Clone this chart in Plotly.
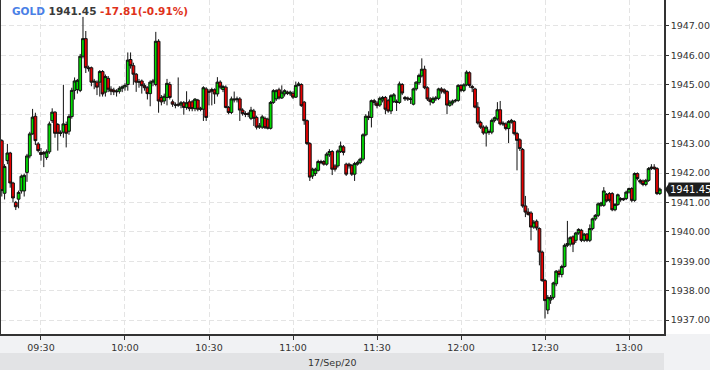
import pandas as pd
import plotly.graph_objects as go

# ---- data (GOLD, 1-minute candles, 17 Sep 2020) ----
start_time = "2020-09-17 09:16"
symbol = "GOLD"
change_abs = -17.81
change_pct = -0.91
date_label = "17/Sep/20"

open_ = [
    1943.10, 1941.31, 1942.42, 1942.68, 1941.66, 1941.00, 1941.11, 1941.39, 1941.39, 1942.02,
    1942.58, 1943.33, 1943.93, 1942.99, 1942.70, 1942.70, 1942.53, 1942.72, 1943.78, 1944.07,
    1943.65, 1943.37, 1943.39, 1943.65, 1943.42, 1943.92, 1944.81, 1944.84, 1944.81, 1945.97,
    1946.57, 1945.58, 1945.58, 1945.09, 1945.09, 1945.09, 1945.45, 1944.75, 1945.22, 1944.85,
    1944.82, 1944.76, 1944.78, 1944.88, 1944.93, 1945.01, 1945.86, 1945.65, 1945.36, 1945.09,
    1945.13, 1944.97, 1944.90, 1944.70, 1945.09, 1945.01, 1946.48, 1944.57, 1944.45, 1944.57,
    1945.01, 1944.42, 1944.31, 1944.34, 1944.31, 1944.39, 1944.23, 1944.42, 1944.42, 1944.19,
    1944.48, 1944.20, 1944.17, 1944.86, 1944.78, 1944.84, 1944.83, 1944.69, 1945.09, 1944.84,
    1944.92, 1944.23, 1944.06, 1944.52, 1944.49, 1944.52, 1944.14, 1944.02, 1944.02, 1943.86,
    1944.11, 1943.89, 1943.56, 1943.56, 1943.86, 1943.83, 1943.52, 1944.40, 1944.52, 1944.83,
    1944.55, 1944.69, 1944.75, 1944.69, 1944.71, 1944.58, 1944.98, 1945.01, 1944.41, 1943.78,
    1943.00, 1941.90, 1941.98, 1942.09, 1942.39, 1942.39, 1942.30, 1942.62, 1942.73, 1942.24,
    1942.24, 1942.73, 1942.89, 1942.30, 1942.30, 1942.26, 1941.96, 1942.30, 1942.35, 1942.47,
    1943.30, 1943.93, 1943.89, 1944.46, 1944.38, 1944.31, 1944.48, 1944.57, 1944.46, 1944.11,
    1944.43, 1944.43, 1944.40, 1945.01, 1944.57, 1944.55, 1944.52, 1944.34, 1944.86, 1945.07,
    1945.30, 1945.53, 1944.90, 1944.52, 1944.40, 1944.52, 1944.54, 1944.86, 1944.83, 1944.77,
    1944.30, 1944.38, 1944.45, 1944.47, 1944.98, 1944.81, 1945.00, 1945.41, 1944.94, 1944.86,
    1944.24, 1943.72, 1943.56, 1943.36, 1943.41, 1943.39, 1943.79, 1943.84, 1944.15, 1943.70,
    1943.67, 1943.51, 1943.73, 1943.75, 1943.34, 1943.13, 1942.80, 1940.88, 1940.67, 1940.64,
    1940.16, 1940.36, 1940.11, 1939.31, 1938.34, 1937.34, 1937.68, 1937.77, 1938.23, 1938.66,
    1938.55, 1938.82, 1939.54, 1939.58, 1939.83, 1939.71, 1939.96, 1940.05, 1939.71, 1939.92,
    1939.71, 1940.11, 1940.44, 1940.56, 1940.90, 1940.90, 1941.27, 1941.30, 1941.30, 1940.75,
    1940.93, 1941.13, 1941.13, 1941.13, 1941.35, 1941.47, 1941.07, 1941.98, 1941.75, 1941.73,
    1941.61, 1941.75, 1942.15, 1942.20, 1942.15, 1941.30,
]
high = [
    1943.15, 1942.30, 1942.99, 1942.72, 1941.70, 1941.05, 1941.40, 1941.95, 1941.98, 1942.65,
    1943.40, 1944.18, 1944.05, 1943.05, 1942.85, 1942.75, 1942.80, 1943.75, 1944.20, 1944.10,
    1943.70, 1943.45, 1945.00, 1943.75, 1944.00, 1944.90, 1945.25, 1945.20, 1946.05, 1947.31,
    1946.83, 1945.65, 1945.62, 1945.20, 1945.15, 1945.50, 1945.50, 1945.35, 1945.30, 1944.95,
    1944.90, 1944.85, 1944.95, 1944.98, 1945.05, 1946.10, 1946.10, 1945.75, 1945.40, 1945.20,
    1945.18, 1945.05, 1944.95, 1945.15, 1945.20, 1946.80, 1946.55, 1944.65, 1944.70, 1945.20,
    1945.10, 1944.50, 1944.40, 1945.25, 1944.45, 1944.45, 1944.78, 1944.50, 1944.48, 1944.55,
    1944.52, 1944.25, 1944.95, 1944.92, 1944.85, 1944.90, 1944.88, 1945.26, 1945.15, 1945.00,
    1944.98, 1944.28, 1944.60, 1944.77, 1944.60, 1944.58, 1944.20, 1944.10, 1944.08, 1944.25,
    1944.18, 1943.95, 1943.70, 1943.98, 1943.92, 1943.88, 1944.45, 1944.85, 1944.85, 1944.90,
    1944.98, 1944.85, 1944.80, 1944.80, 1944.78, 1945.11, 1945.10, 1945.05, 1944.45, 1943.82,
    1943.05, 1942.18, 1942.18, 1942.45, 1942.45, 1942.44, 1942.70, 1942.81, 1942.78, 1942.30,
    1942.80, 1943.07, 1942.95, 1942.35, 1942.35, 1942.30, 1942.38, 1942.42, 1942.52, 1943.35,
    1944.00, 1944.10, 1944.50, 1944.52, 1944.45, 1944.60, 1944.62, 1944.62, 1944.52, 1944.68,
    1944.72, 1944.50, 1945.11, 1945.06, 1944.62, 1944.60, 1944.58, 1944.90, 1945.12, 1945.38,
    1945.90, 1945.65, 1944.95, 1944.58, 1944.60, 1944.62, 1944.90, 1944.92, 1944.88, 1944.82,
    1944.48, 1944.50, 1944.52, 1945.02, 1945.02, 1945.05, 1945.49, 1945.46, 1945.00, 1944.90,
    1944.41, 1943.78, 1943.62, 1943.62, 1943.48, 1943.85, 1943.92, 1944.41, 1944.45, 1943.76,
    1943.72, 1943.80, 1943.84, 1943.80, 1943.40, 1943.18, 1942.85, 1941.22, 1940.80, 1940.70,
    1940.40, 1940.42, 1940.15, 1939.36, 1938.40, 1937.85, 1937.85, 1938.30, 1938.70, 1938.72,
    1938.88, 1939.60, 1940.37, 1939.85, 1939.88, 1940.00, 1940.12, 1940.10, 1939.96, 1939.96,
    1940.25, 1940.48, 1940.60, 1941.00, 1941.02, 1941.52, 1941.32, 1941.35, 1941.35, 1940.98,
    1941.30, 1941.18, 1941.16, 1941.40, 1941.50, 1941.52, 1942.02, 1942.02, 1941.80, 1941.78,
    1941.80, 1942.20, 1942.30, 1942.30, 1942.20, 1941.50,
]
low = [
    1941.20, 1941.10, 1942.30, 1941.50, 1941.00, 1940.74, 1940.80, 1941.30, 1941.20, 1941.70,
    1942.50, 1943.30, 1942.95, 1942.70, 1942.42, 1942.20, 1942.45, 1942.65, 1943.70, 1943.20,
    1942.76, 1943.25, 1943.20, 1942.87, 1943.30, 1943.85, 1944.50, 1944.70, 1944.75, 1945.90,
    1945.40, 1945.45, 1944.95, 1944.85, 1944.65, 1944.60, 1944.60, 1944.60, 1944.75, 1944.65,
    1944.65, 1944.60, 1944.70, 1944.75, 1944.80, 1944.80, 1945.55, 1945.00, 1944.76, 1944.90,
    1944.70, 1944.80, 1944.50, 1944.27, 1944.95, 1944.95, 1944.05, 1944.30, 1944.35, 1944.30,
    1944.50, 1944.25, 1944.20, 1944.25, 1944.20, 1943.98, 1944.15, 1944.10, 1944.10, 1944.10,
    1944.10, 1944.10, 1943.77, 1943.77, 1944.30, 1944.30, 1944.35, 1944.60, 1944.85, 1944.75,
    1944.20, 1944.00, 1944.00, 1944.40, 1944.40, 1943.77, 1943.95, 1943.90, 1943.90, 1943.80,
    1943.60, 1943.48, 1943.50, 1943.50, 1943.50, 1943.48, 1943.48, 1944.35, 1944.45, 1944.50,
    1944.52, 1944.60, 1944.65, 1944.62, 1944.52, 1944.55, 1944.95, 1944.25, 1943.64, 1942.95,
    1941.73, 1941.80, 1941.90, 1942.05, 1942.30, 1942.25, 1942.25, 1942.55, 1941.93, 1942.05,
    1942.18, 1942.68, 1942.60, 1941.90, 1942.15, 1941.90, 1941.73, 1942.25, 1942.30, 1942.40,
    1943.25, 1943.80, 1943.55, 1944.30, 1944.20, 1944.25, 1944.40, 1944.00, 1944.05, 1944.00,
    1944.38, 1944.11, 1944.35, 1944.65, 1944.45, 1944.45, 1944.35, 1944.30, 1944.80, 1945.00,
    1945.25, 1944.85, 1944.45, 1944.30, 1944.35, 1944.45, 1944.48, 1944.70, 1944.68, 1944.00,
    1944.25, 1944.30, 1944.40, 1944.42, 1944.75, 1944.75, 1944.95, 1944.90, 1944.75, 1944.20,
    1943.65, 1943.50, 1943.30, 1942.90, 1943.30, 1943.32, 1943.72, 1943.78, 1943.62, 1943.60,
    1943.45, 1943.02, 1943.68, 1943.28, 1942.09, 1942.75, 1940.82, 1940.50, 1940.55, 1939.71,
    1940.10, 1940.05, 1938.86, 1938.30, 1937.05, 1937.20, 1937.55, 1937.70, 1938.15, 1938.45,
    1938.45, 1938.78, 1939.48, 1939.50, 1939.31, 1939.62, 1939.90, 1939.65, 1939.65, 1939.65,
    1939.65, 1940.05, 1940.38, 1940.50, 1940.85, 1940.85, 1941.00, 1941.00, 1940.70, 1940.70,
    1940.88, 1941.02, 1941.05, 1941.08, 1941.30, 1941.00, 1941.02, 1941.75, 1941.62, 1941.55,
    1941.55, 1941.70, 1942.10, 1942.10, 1941.25, 1941.25,
]
close = [
    1941.40, 1942.22, 1942.68, 1941.66, 1941.15, 1940.85, 1941.34, 1941.89, 1941.92, 1942.58,
    1943.33, 1943.90, 1943.10, 1942.76, 1942.63, 1942.65, 1942.72, 1943.67, 1944.07, 1943.35,
    1943.35, 1943.35, 1943.67, 1943.35, 1943.92, 1944.81, 1945.13, 1945.15, 1945.97, 1946.57,
    1945.58, 1945.55, 1945.09, 1945.12, 1944.92, 1945.45, 1944.69, 1945.28, 1944.85, 1944.78,
    1944.76, 1944.78, 1944.88, 1944.93, 1944.98, 1945.84, 1945.65, 1945.36, 1945.09, 1945.10,
    1944.97, 1944.90, 1944.70, 1945.09, 1945.13, 1946.48, 1944.45, 1944.42, 1944.61, 1945.05,
    1944.57, 1944.34, 1944.31, 1944.31, 1944.39, 1944.23, 1944.39, 1944.19, 1944.19, 1944.51,
    1944.17, 1944.17, 1944.90, 1943.89, 1944.75, 1944.78, 1944.69, 1945.09, 1944.92, 1944.94,
    1944.23, 1944.06, 1944.52, 1944.49, 1944.52, 1944.14, 1944.02, 1944.00, 1943.99, 1944.14,
    1943.86, 1943.56, 1943.60, 1943.91, 1943.54, 1943.52, 1944.40, 1944.80, 1944.80, 1944.55,
    1944.75, 1944.80, 1944.71, 1944.75, 1944.58, 1944.98, 1945.03, 1944.29, 1943.78, 1943.00,
    1941.86, 1942.13, 1942.13, 1942.39, 1942.35, 1942.30, 1942.64, 1942.73, 1942.13, 1942.13,
    1942.75, 1942.92, 1942.70, 1941.96, 1942.24, 1941.96, 1942.32, 1942.35, 1942.47, 1943.30,
    1943.93, 1943.89, 1944.46, 1944.40, 1944.29, 1944.54, 1944.57, 1944.17, 1944.11, 1944.63,
    1944.66, 1944.40, 1945.03, 1944.72, 1944.52, 1944.52, 1944.50, 1944.86, 1945.09, 1945.32,
    1945.53, 1944.90, 1944.52, 1944.43, 1944.54, 1944.55, 1944.86, 1944.79, 1944.75, 1944.31,
    1944.41, 1944.45, 1944.47, 1944.98, 1944.81, 1945.00, 1945.43, 1944.98, 1944.90, 1944.24,
    1943.70, 1943.56, 1943.36, 1943.56, 1943.39, 1943.79, 1943.88, 1944.15, 1943.67, 1943.67,
    1943.51, 1943.75, 1943.79, 1943.34, 1943.11, 1942.83, 1940.88, 1940.67, 1940.59, 1940.16,
    1940.33, 1940.13, 1939.31, 1938.34, 1937.66, 1937.77, 1937.77, 1938.26, 1938.66, 1938.55,
    1938.82, 1939.54, 1939.60, 1939.80, 1939.58, 1939.96, 1940.08, 1939.71, 1939.92, 1939.71,
    1940.11, 1940.44, 1940.56, 1940.95, 1940.98, 1941.39, 1941.05, 1941.07, 1940.75, 1940.93,
    1941.26, 1941.09, 1941.09, 1941.35, 1941.47, 1941.07, 1941.98, 1941.81, 1941.69, 1941.61,
    1941.75, 1942.15, 1942.20, 1942.15, 1941.30, 1941.45,
]

times = pd.date_range(start_time, periods=len(close), freq="min")
last_price = close[-1]

# ---- layout geometry (pixels) ----
W, H = 710, 370
ML, MR, MT, MB = 1, 46, 0, 36
plot_w = W - ML - MR
plot_h = H - MT - MB

def px_x(p):
    return (p - ML) / plot_w

def px_y(p):
    return (MT + plot_h - p) / plot_h

FONT = "DejaVu Sans"
TXT = "#333333"
GRID = "#e4e4e4"

fig = go.Figure(
    go.Candlestick(
        x=times, open=open_, high=high, low=low, close=close,
        increasing=dict(fillcolor="#00dc00", line=dict(color="#111111", width=1)),
        decreasing=dict(fillcolor="#e80000", line=dict(color="#111111", width=1)),
        whiskerwidth=0,
        hoverinfo="skip",
        showlegend=False,
    )
)

x0 = pd.Timestamp(start_time) - pd.Timedelta(seconds=17)
x1 = pd.Timestamp(start_time) + pd.Timedelta(minutes=236.5)

fig.update_layout(
    width=W, height=H,
    margin=dict(l=ML, r=MR, t=MT, b=MB, pad=0),
    paper_bgcolor="#ffffff", plot_bgcolor="#ffffff",
    boxgap=0.0, boxgroupgap=0.0,
    font=dict(family=FONT, size=10, color=TXT),
    showlegend=False,
    hovermode=False,
    xaxis=dict(
        range=[x0, x1], rangeslider=dict(visible=False),
        tick0="2020-09-17 09:00", dtick=30 * 60 * 1000, tickformat="%H:%M",
        showgrid=True, gridcolor=GRID, griddash="5px,3px", gridwidth=1,
        showline=True, linecolor="#333333", linewidth=1.5,
        ticks="outside", ticklen=4, tickcolor="#333333", tickwidth=1,
        tickfont=dict(family=FONT, size=9.5, color=TXT),
        zeroline=False,
    ),
    yaxis=dict(
        side="right", range=[1936.524, 1947.884],
        tick0=1937, dtick=1, tickformat=".2f",
        showgrid=True, gridcolor=GRID, griddash="5px,3px", gridwidth=1,
        showline=True, linecolor="#333333", linewidth=1.5, mirror=True,
        ticks="outside", ticklen=3, tickcolor="#333333", tickwidth=1,
        tickfont=dict(family=FONT, size=9.5, color=TXT),
        zeroline=False,
    ),
)

shapes = [
    dict(type="rect", xref="paper", yref="paper", layer="below",
         x0=px_x(-2), x1=px_x(W + 2), y0=px_y(MT + plot_h), y1=px_y(H + 2),
         fillcolor="#f1f2f4", line=dict(width=0)),
    dict(type="rect", xref="paper", yref="paper", layer="below",
         x0=px_x(-2), x1=px_x(ML + plot_w), y0=px_y(353), y1=px_y(H + 2),
         fillcolor="#e2e3e5", line=dict(width=0)),
    # last price marker arrow
    dict(type="path", xref="paper", yref="y", xsizemode="pixel", ysizemode="pixel",
         xanchor=1, yanchor=last_price, path="M 1,0 L 5,-6 L 5,6 Z",
         fillcolor="#1e1e1e", line=dict(width=0), layer="above"),
]
fig.update_layout(shapes=shapes)

annotations = [
    dict(xref="paper", yref="paper", x=px_x(10), y=px_y(11), xanchor="left", yanchor="middle",
         showarrow=False,
         text=(f"<b><span style='color:#4a80e6'>{symbol}</span> "
               f"<span style='color:#3a3a3a'>{last_price:.2f}</span> "
               f"<span style='color:#e0321a'>{change_abs:.2f}({change_pct:.2f}%)</span></b>"),
         font=dict(family=FONT, size=10.5)),
    dict(xref="paper", yref="y", x=1, y=last_price, xanchor="left", yanchor="middle",
         xshift=4, showarrow=False, text=f"{last_price:.2f}",
         bgcolor="#1e1e1e", borderpad=1, font=dict(family=FONT, size=10, color="#ffffff")),
    dict(xref="paper", yref="paper", x=px_x(332), y=px_y(362), xanchor="center", yanchor="middle",
         showarrow=False, text=date_label, font=dict(family=FONT, size=9.5, color=TXT)),
]
fig.update_layout(annotations=annotations)

fig.write_html("out.html")
